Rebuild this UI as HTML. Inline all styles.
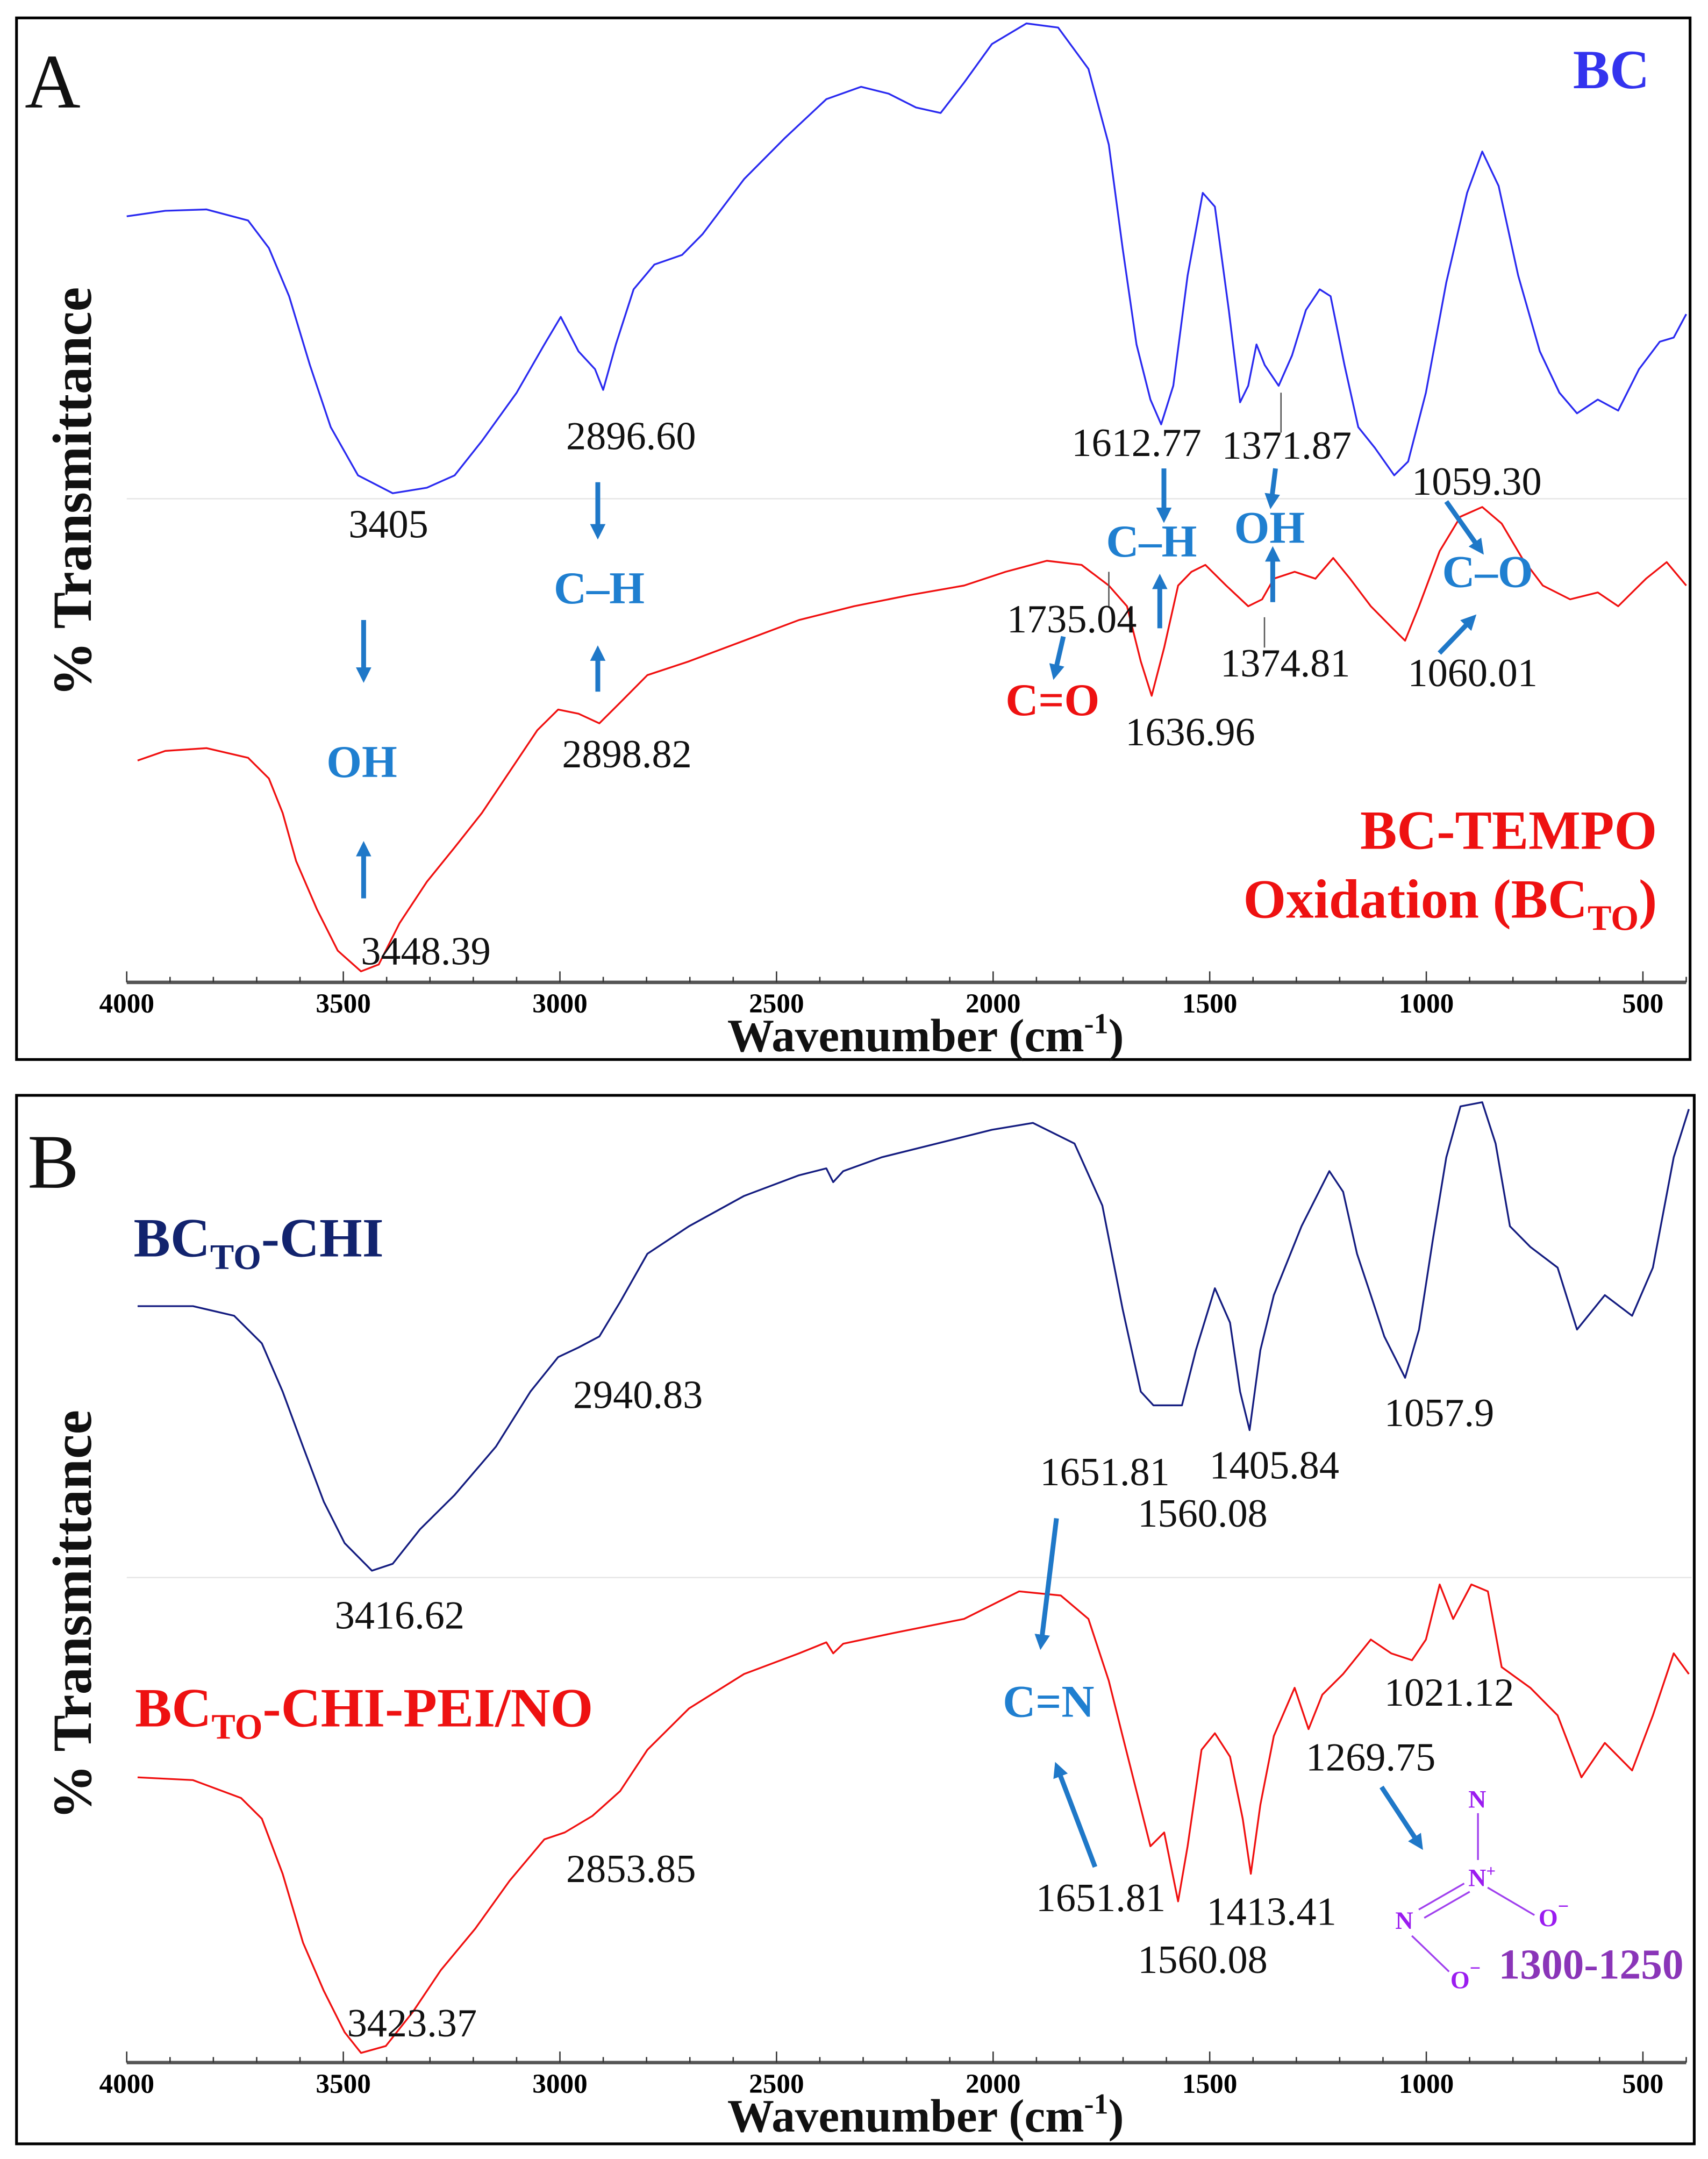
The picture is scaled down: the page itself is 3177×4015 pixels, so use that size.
<!DOCTYPE html>
<html><head><meta charset="utf-8"><style>
html,body{margin:0;padding:0;background:#fff;}
svg{display:block;}
text{font-family:"Liberation Serif",serif;}
</style></head><body>
<svg id="fig" xmlns="http://www.w3.org/2000/svg" width="3177" height="4015" viewBox="0 0 1240 1567" preserveAspectRatio="none">
<defs>
<marker id="ah" viewBox="0 0 10 10" refX="5" refY="5" markerWidth="3.2" markerHeight="3.2" orient="auto"><path d="M0,0 L10,5 L0,10 z" fill="#1f78c8"/></marker>
</defs>
<rect x="12" y="13" width="1215" height="756" fill="none" stroke="#000" stroke-width="2"/>
<rect x="12" y="795" width="1218" height="761" fill="none" stroke="#000" stroke-width="2"/>
<line x1="92" y1="362" x2="1225" y2="362" stroke="#e6e6e6" stroke-width="1"/>
<line x1="92" y1="1145" x2="1228" y2="1145" stroke="#e6e6e6" stroke-width="1"/>
<g id="plots"></g>

<g font-size="29" fill="#111">
<text x="18" y="78" font-size="56">A</text>
<text x="1142" y="64" font-size="40" font-weight="bold" fill="#3333ee">BC</text>
<text x="253" y="390">3405</text>
<text x="411" y="326">2896.60</text>
<text x="778" y="331">1612.77</text>
<text x="887" y="333">1371.87</text>
<text x="1025" y="359">1059.30</text>
<text x="731" y="459">1735.04</text>
<text x="817" y="541">1636.96</text>
<text x="886" y="491">1374.81</text>
<text x="1022" y="498">1060.01</text>
<text x="408" y="557">2898.82</text>
<text x="262" y="700">3448.39</text>
<g font-weight="bold" font-size="33" fill="#1f7fd0">
<text x="402" y="438">C–H</text>
<text x="237" y="564">OH</text>
<text x="896" y="394">OH</text>
<text x="803" y="404">C–H</text>
<text x="1047" y="426">C–O</text>
</g>
<text x="730" y="519" font-size="33" font-weight="bold" fill="#ee1111">C=O</text>
<text x="1203" y="616" text-anchor="end" font-size="40" font-weight="bold" fill="#ee1111">BC-TEMPO</text>
<text x="1203" y="666" text-anchor="end" font-size="40" font-weight="bold" fill="#ee1111">Oxidation (BC<tspan font-size="26" dy="9">TO</tspan><tspan dy="-9">)</tspan></text>
<text transform="translate(66,357) rotate(-90)" text-anchor="middle" font-size="40" font-weight="bold">% Transmittance</text>
<text x="672" y="763" text-anchor="middle" font-size="34" font-weight="bold">Wavenumber (cm<tspan font-size="21" dy="-13">-1</tspan><tspan dy="13">)</tspan></text>
</g>
<g stroke="#1f78c8" stroke-width="3.5" marker-end="url(#ah)">
<line x1="264" y1="450" x2="264" y2="490"/><line x1="264" y1="652" x2="264" y2="616"/>
<line x1="434" y1="350" x2="434" y2="386"/><line x1="434" y1="502" x2="434" y2="474"/>
<line x1="845" y1="340" x2="845" y2="374"/><line x1="842" y1="456" x2="842" y2="422"/>
<line x1="926" y1="340" x2="923" y2="364"/><line x1="924" y1="437" x2="924" y2="402"/>
<line x1="1050" y1="364" x2="1074" y2="398"/><line x1="1045" y1="474" x2="1068" y2="450"/>
<line x1="772" y1="462" x2="766" y2="488"/>
</g>
<g stroke="#555" stroke-width="1">
<line x1="930" y1="285" x2="930" y2="314"/><line x1="918" y1="448" x2="918" y2="470"/><line x1="805" y1="415" x2="805" y2="440"/>
</g>

<g font-size="29" fill="#111">
<text x="20" y="862" font-size="56">B</text>
<text x="97" y="912" font-size="40" font-weight="bold" fill="#12236e">BC<tspan font-size="26" dy="9">TO</tspan><tspan dy="-9">-CHI</tspan></text>
<text x="98" y="1253" font-size="40" font-weight="bold" fill="#ee1111">BC<tspan font-size="26" dy="9">TO</tspan><tspan dy="-9">-CHI-PEI/NO</tspan></text>
<text x="416" y="1022">2940.83</text>
<text x="243" y="1182">3416.62</text>
<text x="755" y="1078">1651.81</text>
<text x="826" y="1108">1560.08</text>
<text x="878" y="1073">1405.84</text>
<text x="1005" y="1035">1057.9</text>
<text x="728" y="1246" font-size="33" font-weight="bold" fill="#1f7fd0">C=N</text>
<text x="752" y="1387">1651.81</text>
<text x="826" y="1432">1560.08</text>
<text x="876" y="1397">1413.41</text>
<text x="948" y="1285">1269.75</text>
<text x="1005" y="1238">1021.12</text>
<text x="411" y="1366">2853.85</text>
<text x="252" y="1478">3423.37</text>
<text x="1088" y="1436" font-size="31" font-weight="bold" fill="#8a35b8">1300-1250</text>
<text transform="translate(66,1172) rotate(-90)" text-anchor="middle" font-size="40" font-weight="bold">% Transmittance</text>
<text x="672" y="1547" text-anchor="middle" font-size="34" font-weight="bold">Wavenumber (cm<tspan font-size="21" dy="-13">-1</tspan><tspan dy="13">)</tspan></text>
</g>
<g fill="#9b1cf0" font-size="18" font-weight="bold">
<text x="1066" y="1312">N</text><text x="1066" y="1369">N<tspan font-size="12" dy="-7">+</tspan></text>
<text x="1013" y="1400">N</text><text x="1117" y="1398">O<tspan font-size="14" dy="-10">−</tspan></text>
<text x="1053" y="1443">O<tspan font-size="14" dy="-10">−</tspan></text>
<g stroke="#a040ee" stroke-width="1.3">
<line x1="1073" y1="1316" x2="1073" y2="1350"/><line x1="1080" y1="1370" x2="1114" y2="1390"/>
<line x1="1063" y1="1367" x2="1030" y2="1386"/><line x1="1067" y1="1373" x2="1034" y2="1392"/>
<line x1="1025" y1="1405" x2="1052" y2="1431"/>
</g></g>
<g stroke="#1f78c8" stroke-width="3.5" marker-end="url(#ah)">
<line x1="767" y1="1102" x2="756" y2="1192"/><line x1="795" y1="1355" x2="768" y2="1284"/><line x1="1003" y1="1297" x2="1030" y2="1338"/>
</g>

<script>
var ticks = [4000, 3500, 3000, 2500, 2000, 1500, 1000, 500];
var tickLabels = ["4000", "3500", "3000", "2500", "2000", "1500", "1000", "500"];
var bcWave = [4000,3911,3816,3720,3672,3625,3577,3529,3466,3386,3307,3243,3180,3100,3036,2998,2957,2919,2900,2871,2830,2782,2718,2671,2575,2480,2385,2305,2241,2178,2121,2067,2003,1923,1850,1780,1733,1701,1669,1637,1612,1584,1551,1516,1488,1456,1430,1411,1392,1373,1341,1310,1278,1246,1221,1189,1157,1119,1074,1042,1001,954,906,871,833,788,738,693,652,604,557,509,461,429,400];
var bcT = [556,560,561,553,533,498,448,403,368,355,359,368,393,428,463,483,458,445,430,463,503,521,528,543,583,613,641,650,645,635,631,653,681,696,693,663,608,533,463,423,405,433,513,573,563,488,421,433,463,448,433,455,488,503,498,448,403,388,368,378,428,508,573,603,578,513,458,428,413,423,415,445,465,468,485];
var btoWave = [3975,3911,3816,3720,3672,3640,3609,3561,3513,3459,3418,3370,3307,3243,3180,3116,3052,3004,2957,2909,2861,2798,2702,2575,2448,2321,2194,2067,1971,1876,1796,1733,1691,1659,1634,1605,1573,1542,1510,1462,1411,1379,1352,1304,1256,1215,1176,1128,1081,1049,1017,969,921,871,826,779,731,668,604,557,493,445,400];
var btoT = [161,168,170,163,148,123,88,53,23,8,13,43,73,98,123,153,183,198,195,188,203,223,233,248,263,273,281,288,298,306,303,288,273,233,208,243,288,298,303,288,273,278,293,298,293,308,293,273,258,248,273,313,338,345,333,308,288,278,283,273,293,305,288];
var chiWave = [3975,3847,3752,3688,3640,3593,3545,3497,3434,3386,3323,3243,3148,3068,3004,2957,2909,2861,2798,2702,2575,2448,2385,2369,2346,2258,2130,2003,1908,1812,1748,1701,1659,1630,1605,1564,1532,1488,1453,1430,1408,1383,1352,1288,1224,1192,1160,1128,1097,1065,1049,1017,985,954,921,871,840,807,760,697,652,588,525,477,429,394];
var chiT = [549,549,542,522,487,447,407,377,357,362,387,412,447,487,512,519,527,552,587,607,629,644,649,639,647,657,667,677,682,667,622,547,487,477,477,477,517,562,537,487,459,517,557,607,647,632,587,557,527,507,497,532,597,657,694,697,667,607,592,577,532,557,542,577,657,692];
var peiWave = [3975,3847,3736,3688,3640,3593,3545,3497,3459,3402,3339,3275,3196,3116,3036,2989,2925,2861,2798,2702,2575,2448,2385,2369,2346,2226,2067,1940,1844,1780,1733,1701,1669,1637,1605,1573,1551,1519,1488,1453,1424,1405,1383,1352,1304,1272,1240,1192,1128,1081,1033,1001,969,938,896,858,826,760,697,642,588,525,477,429,394];
var peiT = [207,205,192,177,137,87,52,22,7,12,37,67,97,132,162,167,179,197,227,257,282,297,305,297,304,312,322,342,339,322,277,237,197,157,167,117,157,227,239,222,177,137,187,237,272,242,267,282,307,297,292,307,347,322,347,342,287,272,252,207,232,212,252,297,282];

function makeX(){ return function(w){ return 92 + (4000 - w) * 0.3145; }; }
function makeY(axisY){ return function(t){ return axisY - t; }; }
var NS = "http://www.w3.org/2000/svg";
var plots = document.getElementById('plots');
var panels = [
  {axisY:713, name:'a', series:[[bcWave,bcT,'#2a2af0','spectrum-bc'],[btoWave,btoT,'#f01010','spectrum-bc-to']]},
  {axisY:1497, name:'b', series:[[chiWave,chiT,'#141c80','spectrum-bcto-chi'],[peiWave,peiT,'#f01010','spectrum-bcto-chi-pei-no']]}
];
panels.forEach(function(p){
  var X = makeX(), Y = makeY(p.axisY);
  var ax = document.createElementNS(NS,'line');
  
  
  ax.setAttribute('x1', X(4000)); ax.setAttribute('x2', X(400));
  ax.setAttribute('y1', p.axisY); ax.setAttribute('y2', p.axisY);
  ax.setAttribute('stroke', '#555'); ax.setAttribute('stroke-width', '2.5');
  plots.appendChild(ax);
  for (var w = 4000; w >= 400; w -= 100) {
    var tk = document.createElementNS(NS,'line');
    
    
    var major = (w % 500 === 0);
    tk.setAttribute('x1', X(w)); tk.setAttribute('x2', X(w));
    tk.setAttribute('y1', p.axisY - (major ? 8 : 4)); tk.setAttribute('y2', p.axisY);
    tk.setAttribute('stroke', '#333'); tk.setAttribute('stroke-width', '1');
    plots.appendChild(tk);
  }
  ticks.forEach(function(t, i){
    var tx = document.createElementNS(NS,'text');
    
    
    tx.setAttribute('x', X(t)); tx.setAttribute('y', p.axisY + 22);
    tx.setAttribute('text-anchor', 'middle'); tx.setAttribute('font-size', '20'); tx.setAttribute('font-weight', 'bold');
    tx.textContent = tickLabels[i];
    plots.appendChild(tx);
  });
  p.series.forEach(function(s){
    var pts = s[0].map(function(w, i){ return X(w).toFixed(1) + ',' + Y(s[1][i]).toFixed(1); }).join(' ');
    var pl = document.createElementNS(NS,'polyline');
    
    
    pl.setAttribute('points', pts);
    pl.setAttribute('fill', 'none'); pl.setAttribute('stroke', s[2]);
    pl.setAttribute('stroke-width', '1.3'); pl.setAttribute('stroke-linejoin', 'round');
    plots.appendChild(pl);
  });
});
</script>
</svg>
</body></html>
